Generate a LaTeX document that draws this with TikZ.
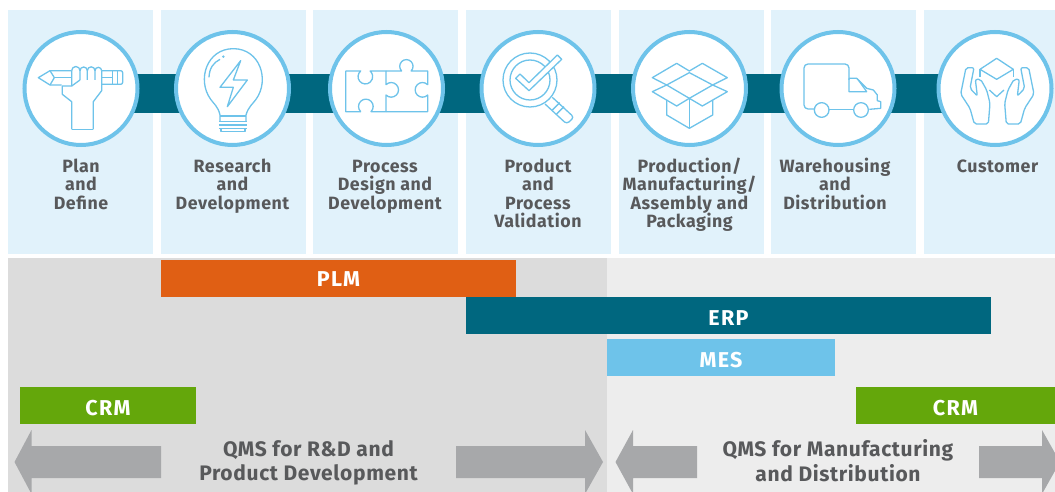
\documentclass[tikz,border=0pt]{standalone}
\usepackage{fontspec}
\setmainfont[LetterSpace=3]{Fira Sans}
\usepackage{tikz}
\usetikzlibrary{backgrounds}
\definecolor{panelblue}{HTML}{E1F2FB}
\definecolor{skyblue}{HTML}{6EC3EA}
\definecolor{petrol}{HTML}{00677F}
\definecolor{burnt}{HTML}{E05F14}
\definecolor{leaf}{HTML}{64A70B}
\definecolor{arrowgray}{HTML}{A7A8AA}
\definecolor{labelgray}{HTML}{58595B}
\definecolor{areadark}{HTML}{DCDCDC}
\definecolor{arealight}{HTML}{EDEDED}
\newcommand{\steptop}{\rule{0pt}{15pt}}
\tikzset{
  stepring/.style={circle, draw=skyblue, line width=4pt, fill=white, inner sep=0pt, minimum size=113pt},
  steplabel/.style={anchor=north, align=center, inner sep=0pt, text=labelgray, font=\fontsize{17.8}{18.5}\selectfont\bfseries},
  qmslabel/.style={align=center, inner sep=0pt, text=labelgray, font=\fontsize{21}{22}\selectfont\bfseries},
  sysbar/.style={inner sep=0pt, minimum height=37pt, text height=19.5pt, text depth=0pt, text=white, font=\fontsize{21.5}{22}\selectfont\bfseries\addfontfeature{LetterSpace=6}},
  band/.style={petrol, line width=38.7pt},
  qmsarrow/.style={fill=arrowgray},
  icon/.style={x=0.33333pt, y=-0.33333pt, draw=skyblue, line width=1.3pt, line join=round}
}

\begin{document}
\begin{tikzpicture}[x=1pt, y=-1pt]

  \useasboundingbox (0,0) rectangle (1055,492);

  % Rings along the chain
  \node[stepring] (plan) at (81,88.5) {};
  \node[stepring] (research) at (232.5,88.5) {};
  \node[stepring] (process) at (386.5,88.5) {};
  \node[stepring] (product) at (538,88.5) {};
  \node[stepring] (production) at (689.5,88.5) {};
  \node[stepring] (warehouse) at (838,88.5) {};
  \node[stepring] (customer) at (995,88.5) {};

  \begin{scope}[on background layer]
    % Panels and lower areas
    \fill[panelblue] (8,10) rectangle (153,254);
    \fill[panelblue] (161,10) rectangle (306,254);
    \fill[panelblue] (313,10) rectangle (458,254);
    \fill[panelblue] (466,10) rectangle (611,254);
    \fill[panelblue] (619,10) rectangle (764,254);
    \fill[panelblue] (771,10) rectangle (916,254);
    \fill[panelblue] (924,10) rectangle (1055,254);
    \fill[areadark] (8,258) rectangle (607,492);
    \fill[arealight] (607,258) rectangle (1055,492);

    \draw[band] ([yshift=-5pt]plan.center) -- ([yshift=-5pt]customer.center);
  \end{scope}

  % Step names
  \node[steplabel] (plantext) at (81,157) {\steptop Plan\\and\\Define};
  \node[steplabel] (researchtext) at (232.5,157) {\steptop Research\\and\\Development};
  \node[steplabel] (processtext) at (385,157) {\steptop Process\\Design and\\Development};
  \node[steplabel] (producttext) at (538,157) {\steptop Product\\and\\Process\\Validation};
  \node[steplabel] (productiontext) at (689.5,157) {\steptop Production/\\Manufacturing/\\Assembly and\\Packaging};
  \node[steplabel] (warehousetext) at (835,157) {\steptop Warehousing\\and\\Distribution};
  \node[steplabel] (customertext) at (997.5,157) {\steptop Customer};

  % Systems
  \node[sysbar, fill=burnt, minimum width=355pt, text height=15.6pt] (plm) at (338.5,278.5) {PLM};
  \node[sysbar, fill=petrol, minimum width=525pt] (erp) at (728.5,315.5) {ERP};
  \node[sysbar, fill=skyblue, minimum width=228pt] (mes) at (721,357.5) {MES};
  \node[sysbar, fill=leaf, minimum width=176pt] (crmleft) at (108,405.5) {CRM};
  \node[sysbar, fill=leaf, minimum width=199pt] (crmright) at (955.5,405.5) {CRM};

  % QMS arrows
  \begin{scope}
    \clip (0,0) rectangle (1055,492);
    \fill[qmsarrow] (161,446) -- (31.5,446) -- (31.5,430) -- (14.5,462) -- (31.5,494) -- (31.5,478) -- (161,478) -- cycle;
    \fill[qmsarrow] (456,446) -- (585,446) -- (585,430) -- (603,462) -- (585,494) -- (585,478) -- (456,478) -- cycle;
    \fill[qmsarrow] (697,446) -- (633,446) -- (633,430) -- (615.5,462) -- (633,494) -- (633,478) -- (697,478) -- cycle;
    \fill[qmsarrow] (979,446) -- (1042,446) -- (1042,430) -- (1060,462) -- (1042,494) -- (1042,478) -- (979,478) -- cycle;
  \end{scope}
  \node[qmslabel] (qmsleft) at (308.5,463.6) {\strut QMS for R\&D and\\Product Development\strut};
  \node[qmslabel] (qmsright) at (838,463.6) {\strut QMS for Manufacturing\\and Distribution\strut};

  % Pencil and fist
  \begin{scope}[icon]
    \draw (215,212) -- (150,212) -- (115,233) -- (150,255) -- (185,255);
    \draw (150,212) -- (163,233) -- (150,255);
    \draw (163,233) -- (215,233);
    \draw[rounded corners=2pt] (305,212) -- (368,212) -- (368,253) -- (305,253);
    \draw (305,233) -- (338,233) (338,212) -- (338,253) (352,212) -- (352,253);
    \draw (215,388) -- (280,388);
    \draw (215,388) -- (215,305) -- (187,283) -- (187,258) -- (215,258) -- (215,212);
    \draw (280,388) -- (280,305) -- (305,272) -- (305,212);
    \draw (215,212) arc (180:360:12.5) -- (240,240);
    \draw (240,212) arc (180:360:11) -- (262,240);
    \draw (262,212) arc (180:360:11.5) -- (285,240);
    \draw (285,212) arc (180:360:10);
    \draw (215,258) -- (240,240);
  \end{scope}

  % Light bulb
  \begin{scope}[icon]
    \draw (660,365) -- (660,345) .. controls (655,320) and (640,310) .. (632,298) .. controls (590,240) and (620,146) .. (700,146) .. controls (780,146) and (810,240) .. (768,298) .. controls (760,310) and (745,320) .. (738,345) -- (738,365);
    \draw (660,348) -- (738,348);
    \draw (657,365) -- (742,365) (657,375) -- (742,375) (657,385) -- (742,385);
    \draw (663,385) -- (663,395) -- (735,395) -- (735,385);
    \draw (627,232) .. controls (628,205) and (640,188) .. (660,178);
    \fill[skyblue, draw=none] (670,170) circle (4);
    \draw (722,182) -- (660,262) -- (700,262) -- (682,320) -- (742,240) -- (700,240) -- cycle;
  \end{scope}

  % Puzzle pieces
  \begin{scope}[shift={(320,0)}, icon]
    \draw (77,213) -- (122,213) arc (230:-50:22) -- (198,213);
    \draw (77,213) -- (77,335) -- (122,335) arc (135:405:22) -- (198,335);
    \draw (198,213) -- (198,254) arc (225:495:22) -- (198,335);
    \draw (198,213) -- (245,213) arc (135:405:20) -- (323,213) -- (323,254) arc (-45:-315:22) -- (323,335) -- (198,335);
  \end{scope}

  % Magnifier with tick
  \begin{scope}[shift={(320,0)}, icon]
    \draw (630,240) circle (81);
    \draw (630,240) circle (60);
    \draw[fill=white] (600,222) -- (627,248) -- (712,165) -- (725,178) -- (627,272) -- (587,235) -- cycle;
    \draw[rounded corners=3pt] (675,312) -- (740,372) -- (762,352) -- (697,292);
    \draw (697,330) -- (719,308) (710,342) -- (732,320);
  \end{scope}

  % Open box
  \begin{scope}[shift={(640,0)}, icon]
    \draw (80,300) -- (80,345) -- (148,385) -- (218,345) -- (218,300);
    \draw (148,295) -- (148,385);
    \draw (80,255) -- (148,218) -- (218,255) -- (148,295) -- cycle;
    \draw (80,255) -- (37,233) -- (110,190) -- (148,213) -- (187,190) -- (262,233) -- (218,255);
    \draw (80,255) -- (37,275) -- (110,318) -- (148,295) -- (187,318) -- (262,275) -- (218,255);
  \end{scope}

  % Truck
  \begin{scope}[shift={(640,0)}, icon]
    \draw[rounded corners=4pt] (523,327) -- (492,327) -- (492,192) -- (627,192) -- (627,240);
    \draw (627,235) -- (650,235) -- (680,265) -- (700,270) -- (712,285) -- (712,302) -- (722,305) -- (722,325) -- (688,328);
    \draw (568,328) -- (640,328);
    \draw (627,235) -- (627,275) -- (680,275) -- (655,240);
    \draw (545,330) circle (22);
    \draw (663,330) circle (22);
  \end{scope}

  % Hands with parcel
  \begin{scope}[shift={(640,0)}, icon]
    \draw (1070,175) -- (1120,208) -- (1070,238) -- (1020,208) -- cycle;
    \draw (1020,208) -- (1020,232) (1120,208) -- (1120,232);
    \draw (1048,270) -- (1070,290) -- (1092,270);
    \draw[rounded corners=2pt] (1003,372) -- (990,325) -- (962,282) -- (978,203) -- (1002,203) -- (990,265) -- (1012,288) -- (1006,238) -- (1022,238) -- (1040,270) -- (1050,310) -- (1045,372) -- cycle;
    \draw[rounded corners=2pt] (1141,372) -- (1154,325) -- (1182,282) -- (1166,203) -- (1142,203) -- (1154,265) -- (1132,288) -- (1138,238) -- (1122,238) -- (1104,270) -- (1094,310) -- (1099,372) -- cycle;
  \end{scope}

\end{tikzpicture}
\end{document}
